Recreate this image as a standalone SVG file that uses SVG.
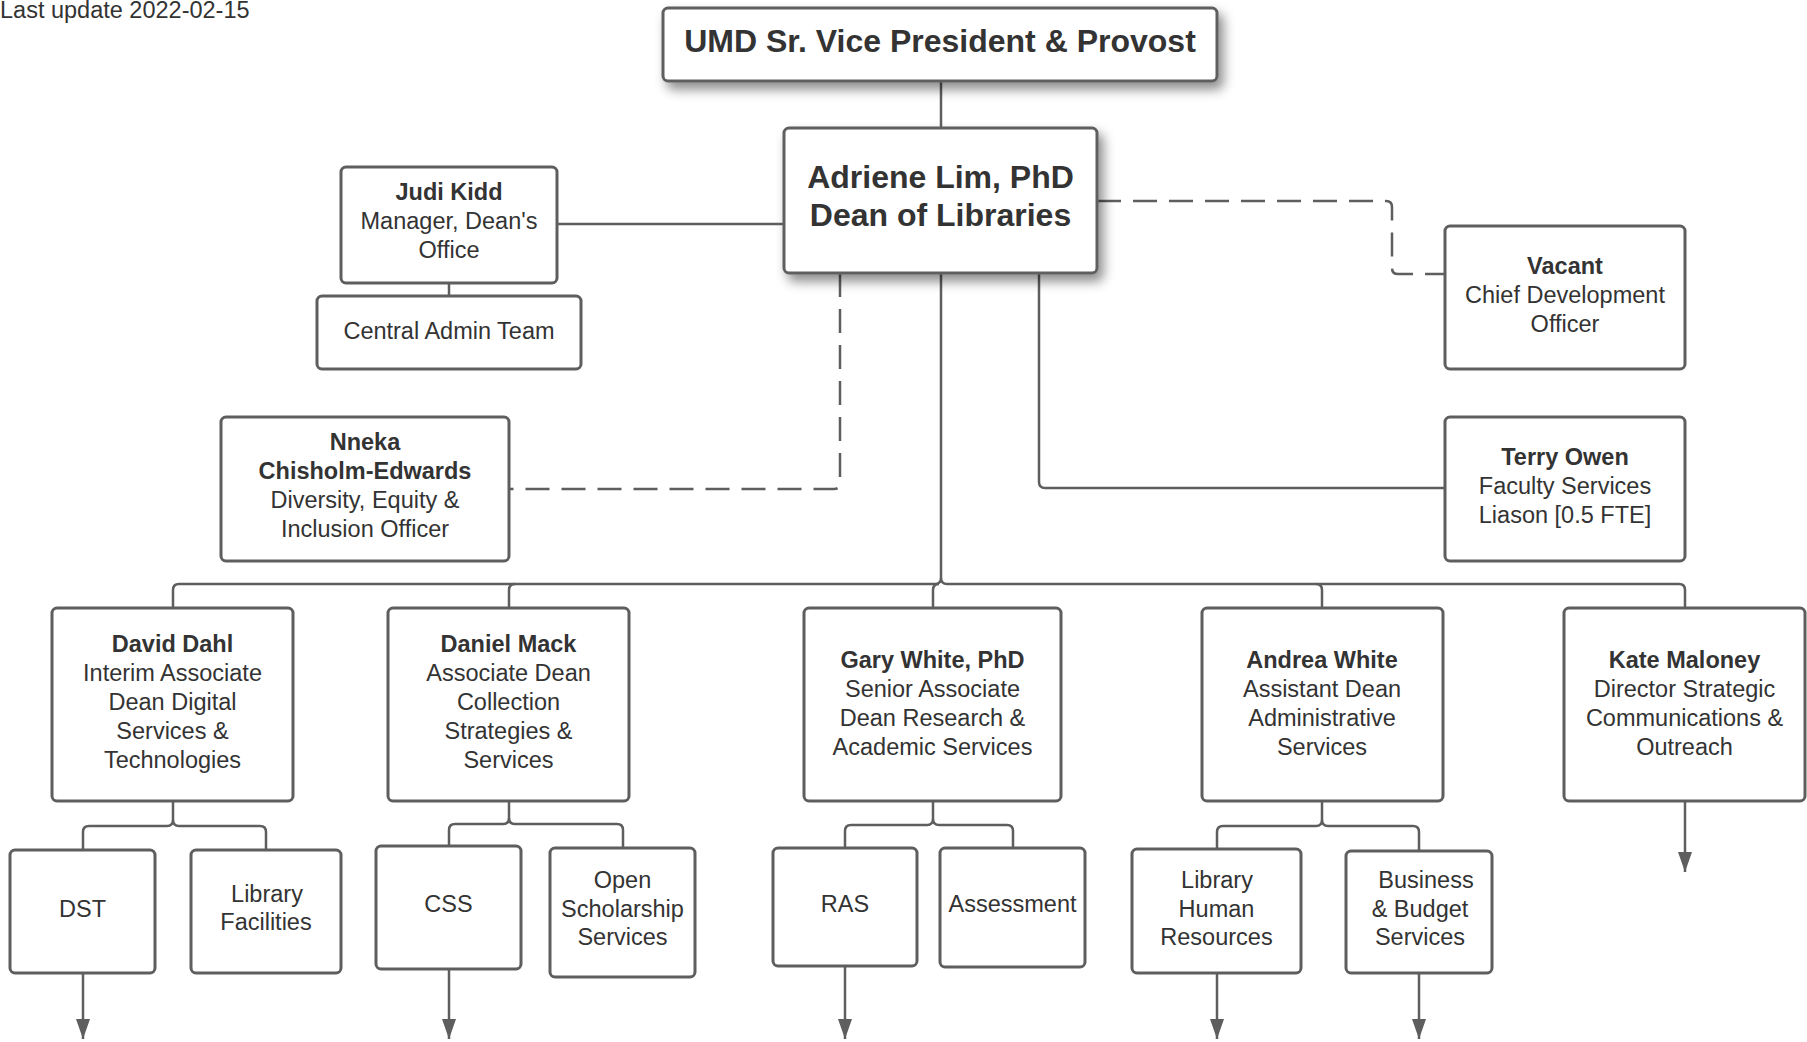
<svg xmlns="http://www.w3.org/2000/svg" width="1807" height="1042" viewBox="0 0 1807 1042">
<defs>
<filter id="shadow" x="-20%" y="-30%" width="150%" height="180%">
<feDropShadow dx="5" dy="7" stdDeviation="6" flood-color="#000" flood-opacity="0.45"/>
</filter>
<marker id="arrow" markerUnits="userSpaceOnUse" markerWidth="22" markerHeight="16" refX="20" refY="7" orient="auto">
<path d="M0,0 L20,7 L0,14 z" fill="#5e5e5e"/>
</marker>
</defs>
<style>
.box{fill:#fff;stroke:#5e5e5e;stroke-width:3}
.line{fill:none;stroke:#5e5e5e;stroke-width:2.5}
.dash{stroke-dasharray:24 12}
text{font-family:"Liberation Sans",Arial,sans-serif;font-size:23.5px;fill:#333;text-anchor:middle}
.b{font-weight:bold}
.big{font-size:32px;font-weight:bold}
</style>
<rect width="1807" height="1042" fill="#fff"/>
<text x="0" y="18" style="text-anchor:start">Last update 2022-02-15</text>

<g id="connectors">
<path class="line" d="M941 81 V128"/>
<path class="line" d="M557 224 H784"/>
<path class="line" d="M449 283 V296"/>
<path class="line dash" d="M1097 201 H1386 Q1392 201 1392 207 V268 Q1392 274 1398 274 H1445"/>
<path class="line dash" d="M840 273 V483 Q840 489 834 489 H509"/>
<path class="line" d="M1039 273 V482 Q1039 488 1045 488 H1445"/>
<path class="line" d="M941 273 V578 Q941 584 935 584 H179 Q173 584 173 590 V608"/>
<path class="line" d="M941 578 Q941 584 947 584 H1679 Q1685 584 1685 590 V608"/>
<path class="line" d="M515 584 Q509 584 509 590 V608"/>
<path class="line" d="M939 584 Q933 584 933 590 V608"/>
<path class="line" d="M1316 584 Q1322 584 1322 590 V608"/>
<path class="line" d="M173 801 V820 Q173 826 167 826 H89 Q83 826 83 832 V850"/>
<path class="line" d="M173 820 Q173 826 179 826 H260 Q266 826 266 832 V850"/>
<path class="line" d="M509 801 V818 Q509 824 503 824 H455 Q449 824 449 830 V846"/>
<path class="line" d="M509 818 Q509 824 515 824 H617 Q623 824 623 830 V848"/>
<path class="line" d="M933 801 V819 Q933 825 927 825 H851 Q845 825 845 831 V848"/>
<path class="line" d="M933 819 Q933 825 939 825 H1007 Q1013 825 1013 831 V848"/>
<path class="line" d="M1322 801 V820 Q1322 826 1316 826 H1223 Q1217 826 1217 832 V849"/>
<path class="line" d="M1322 820 Q1322 826 1328 826 H1413 Q1419 826 1419 832 V851"/>
<path class="line" marker-end="url(#arrow)" d="M83 973 V1039"/>
<path class="line" marker-end="url(#arrow)" d="M449 969 V1039"/>
<path class="line" marker-end="url(#arrow)" d="M845 966 V1039"/>
<path class="line" marker-end="url(#arrow)" d="M1217 973 V1039"/>
<path class="line" marker-end="url(#arrow)" d="M1419 973 V1039"/>
<path class="line" marker-end="url(#arrow)" d="M1685 801 V872"/>
</g>

<g id="provost">
<rect class="box" x="663" y="8" width="554" height="73" rx="5" filter="url(#shadow)"/>
<text class="big" x="940" y="52">UMD Sr. Vice President &amp; Provost</text>
</g>
<g id="dean">
<rect class="box" x="784" y="128" width="313" height="145" rx="5" filter="url(#shadow)"/>
<text class="big" x="940.5" y="188">Adriene Lim, PhD</text>
<text class="big" x="940.5" y="226">Dean of Libraries</text>
</g>
<g id="judi">
<rect class="box" x="341" y="167" width="216" height="116" rx="5"/>
<text class="b" x="449" y="200">Judi Kidd</text>
<text x="449" y="229">Manager, Dean's</text>
<text x="449" y="258">Office</text>
</g>
<g id="central">
<rect class="box" x="317" y="296" width="264" height="73" rx="5"/>
<text x="449" y="339">Central Admin Team</text>
</g>
<g id="vacant">
<rect class="box" x="1445" y="226" width="240" height="143" rx="5"/>
<text class="b" x="1565" y="274">Vacant</text>
<text x="1565" y="303">Chief Development</text>
<text x="1565" y="332">Officer</text>
</g>
<g id="terry">
<rect class="box" x="1445" y="417" width="240" height="144" rx="5"/>
<text class="b" x="1565" y="465">Terry Owen</text>
<text x="1565" y="494">Faculty Services</text>
<text x="1565" y="523">Liason [0.5 FTE]</text>
</g>
<g id="nneka">
<rect class="box" x="221" y="417" width="288" height="144" rx="5"/>
<text class="b" x="365" y="450">Nneka</text>
<text class="b" x="365" y="479">Chisholm-Edwards</text>
<text x="365" y="508">Diversity, Equity &amp;</text>
<text x="365" y="537">Inclusion Officer</text>
</g>
<g id="david">
<rect class="box" x="52" y="608" width="241" height="193" rx="5"/>
<text class="b" x="172.5" y="652">David Dahl</text>
<text x="172.5" y="681">Interim Associate</text>
<text x="172.5" y="710">Dean Digital</text>
<text x="172.5" y="739">Services &amp;</text>
<text x="172.5" y="768">Technologies</text>
</g>
<g id="daniel">
<rect class="box" x="388" y="608" width="241" height="193" rx="5"/>
<text class="b" x="508.5" y="652">Daniel Mack</text>
<text x="508.5" y="681">Associate Dean</text>
<text x="508.5" y="710">Collection</text>
<text x="508.5" y="739">Strategies &amp;</text>
<text x="508.5" y="768">Services</text>
</g>
<g id="gary">
<rect class="box" x="804" y="608" width="257" height="193" rx="5"/>
<text class="b" x="932.5" y="668">Gary White, PhD</text>
<text x="932.5" y="697">Senior Associate</text>
<text x="932.5" y="726">Dean Research &amp;</text>
<text x="932.5" y="755">Academic Services</text>
</g>
<g id="andrea">
<rect class="box" x="1202" y="608" width="241" height="193" rx="5"/>
<text class="b" x="1322" y="668">Andrea White</text>
<text x="1322" y="697">Assistant Dean</text>
<text x="1322" y="726">Administrative</text>
<text x="1322" y="755">Services</text>
</g>
<g id="kate">
<rect class="box" x="1564" y="608" width="241" height="193" rx="5"/>
<text class="b" x="1684.5" y="668">Kate Maloney</text>
<text x="1684.5" y="697">Director Strategic</text>
<text x="1684.5" y="726">Communications &amp;</text>
<text x="1684.5" y="755">Outreach</text>
</g>
<g id="dst">
<rect class="box" x="10" y="850" width="145" height="123" rx="5"/>
<text x="82.5" y="917">DST</text>
</g>
<g id="libfac">
<rect class="box" x="191" y="850" width="150" height="123" rx="5"/>
<text x="267" y="902">Library</text>
<text x="266" y="930">Facilities</text>
</g>
<g id="css">
<rect class="box" x="376" y="846" width="145" height="123" rx="5"/>
<text x="448.5" y="912">CSS</text>
</g>
<g id="open">
<rect class="box" x="550" y="848" width="145" height="129" rx="5"/>
<text x="622.5" y="888">Open</text>
<text x="622.5" y="917">Scholarship</text>
<text x="622.5" y="945">Services</text>
</g>
<g id="ras">
<rect class="box" x="773" y="848" width="144" height="118" rx="5"/>
<text x="845" y="912">RAS</text>
</g>
<g id="assessment">
<rect class="box" x="940" y="848" width="145" height="119" rx="5"/>
<text x="1012.5" y="912">Assessment</text>
</g>
<g id="lhr">
<rect class="box" x="1132" y="849" width="169" height="124" rx="5"/>
<text x="1217" y="888">Library</text>
<text x="1216.5" y="917">Human</text>
<text x="1216.5" y="945">Resources</text>
</g>
<g id="business">
<rect class="box" x="1346" y="851" width="146" height="122" rx="5"/>
<text x="1426" y="888">Business</text>
<text x="1420" y="917">&amp; Budget</text>
<text x="1420" y="945">Services</text>
</g>
</svg>
